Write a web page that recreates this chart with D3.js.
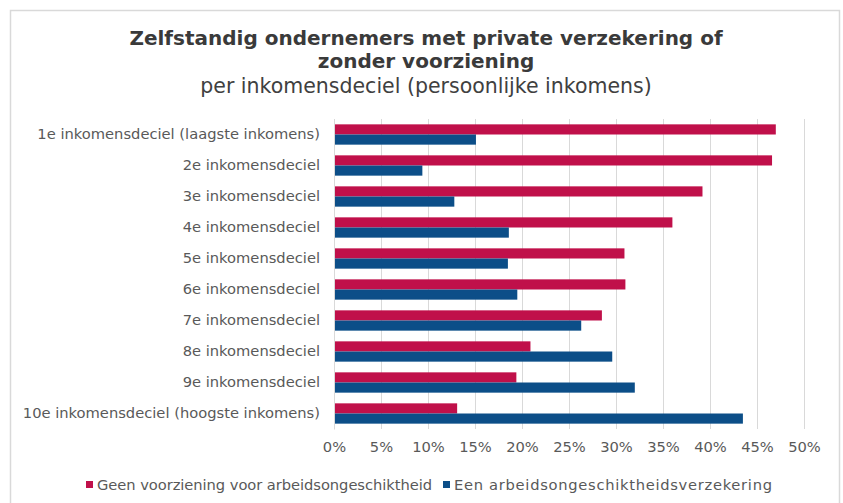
<!DOCTYPE html>
<html>
<head>
<meta charset="utf-8">
<script src="https://cdn.jsdelivr.net/npm/d3@7"></script>
<style>
  html, body { margin: 0; padding: 0; background: #fff; }
  svg { display: block; }
  text { font-family: "DejaVu Sans", Verdana, sans-serif; }
</style>
</head>
<body>
<svg id="chart" width="843" height="503"></svg>
<script>
const categories = [
  "1e inkomensdeciel (laagste inkomens)",
  "2e inkomensdeciel",
  "3e inkomensdeciel",
  "4e inkomensdeciel",
  "5e inkomensdeciel",
  "6e inkomensdeciel",
  "7e inkomensdeciel",
  "8e inkomensdeciel",
  "9e inkomensdeciel",
  "10e inkomensdeciel (hoogste inkomens)"
];
const seriesNames = [
  "Geen voorziening voor arbeidsongeschiktheid",
  "Een arbeidsongeschiktheidsverzekering"
];
const geenVoorziening = [47.0, 46.6, 39.2, 36.0, 30.9, 31.0, 28.5, 20.9, 19.4, 13.1];
const verzekering     = [15.1, 9.4, 12.8, 18.6, 18.5, 19.5, 26.3, 29.6, 32.0, 43.5];
const tickValues = [0, 5, 10, 15, 20, 25, 30, 35, 40, 45, 50];
const titleLines = ["Zelfstandig ondernemers met private verzekering of", "zonder voorziening"];
const subtitle = "per inkomensdeciel (persoonlijke inkomens)";
const colors = ["#C0104A", "#0C4E88"];

const svg = d3.select("#chart");

// outer frame
svg.append("rect").attr("x", 10.5).attr("y", 10.5).attr("width", 829).attr("height", 500)
  .attr("fill", "#fff").attr("stroke", "#d9d9d9").attr("stroke-width", 1.5);

// titles
svg.append("text").attr("x", 426).attr("y", 45).attr("text-anchor", "middle")
  .attr("font-size", 20).attr("font-weight", "bold").attr("fill", "#3a3a3a").text(titleLines[0]);
svg.append("text").attr("x", 426).attr("y", 68).attr("text-anchor", "middle")
  .attr("font-size", 20).attr("font-weight", "bold").attr("fill", "#3a3a3a").text(titleLines[1]);
svg.append("text").attr("x", 426).attr("y", 93).attr("text-anchor", "middle")
  .attr("font-size", 20.5).attr("fill", "#404040").text(subtitle);

const x = d3.scaleLinear().domain([0, 50]).range([334, 804]);
const y = d3.scaleBand().domain(categories).range([119, 429]).paddingInner(0.345).paddingOuter(0.1725);
const ySub = d3.scaleBand().domain([0, 1]).range([0, y.bandwidth()]);

// gridlines
svg.append("g").selectAll("line").data(tickValues).join("line")
  .attr("x1", d => Math.round(x(d)) + 0.5).attr("x2", d => Math.round(x(d)) + 0.5)
  .attr("y1", 119).attr("y2", 429)
  .attr("stroke", "#d9d9d9").attr("stroke-width", 1);

// bars
const series = [geenVoorziening, verzekering];
series.forEach((vals, si) => {
  svg.append("g").selectAll("rect").data(vals).join("rect")
    .attr("x", x(0))
    .attr("y", (d, i) => y(categories[i]) + ySub(si))
    .attr("width", d => x(d) - x(0))
    .attr("height", ySub.bandwidth())
    .attr("fill", colors[si]);
});

// y axis labels
const yAxis = d3.axisLeft(y).tickSize(0).tickPadding(14);
const gy = svg.append("g").attr("transform", `translate(${x(0)},0)`).call(yAxis);
gy.select(".domain").attr("stroke", "#d9d9d9");
gy.selectAll("text").attr("font-size", 14.7).attr("fill", "#595959")
  .attr("font-family", '"DejaVu Sans", Verdana, sans-serif');

// x axis labels
const xAxis = d3.axisBottom(x).tickValues(tickValues).tickFormat(d => d + "%").tickSize(0).tickPadding(13);
const gx = svg.append("g").attr("transform", `translate(0,429)`).call(xAxis);
gx.select(".domain").remove();
gx.selectAll("text").attr("font-size", 14.7).attr("fill", "#595959")
  .attr("font-family", '"DejaVu Sans", Verdana, sans-serif');

// legend
const legendX = [86, 443];
const legendTextLen = [335, 318];
const lg = svg.append("g");
seriesNames.forEach((name, i) => {
  lg.append("rect").attr("x", legendX[i]).attr("y", 481).attr("width", 7).attr("height", 7).attr("fill", colors[i]);
  lg.append("text").attr("x", legendX[i] + 11).attr("y", 490)
    .attr("font-size", 14.7).attr("fill", "#595959")
    .attr("textLength", legendTextLen[i]).attr("lengthAdjust", "spacing")
    .text(name);
});
</script>
</body>
</html>
